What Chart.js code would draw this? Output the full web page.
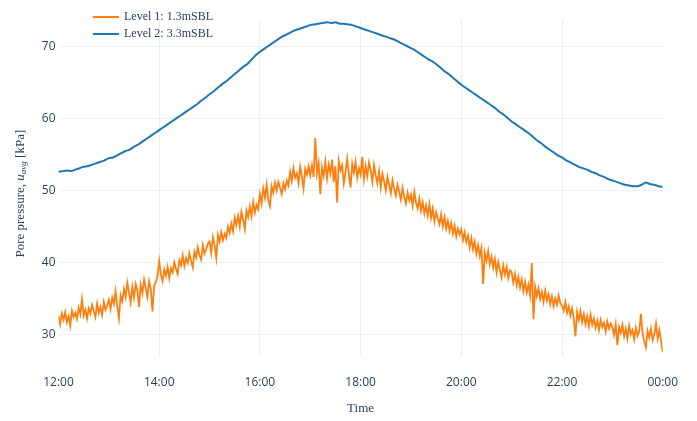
<!DOCTYPE html>
<html>
<head>
<meta charset="utf-8">
<script src="https://cdn.jsdelivr.net/npm/chart.js@4.4.1/dist/chart.umd.min.js"></script>
<style>
  html, body { margin: 0; padding: 0; background: #fff; }
  #wrap { width: 697px; height: 421px; }
</style>
</head>
<body>
<div id="wrap"><canvas id="poreChart"></canvas></div>
<script>
// time axis: hours from 12:00 (12) to midnight (24)
const startHour = 12
const level1StepMin = 2
const level2StepMin = 5
const xTickHours = [12, 14, 16, 18, 20, 22, 24]
const yTickValues = [30, 40, 50, 60, 70]

const level1Label = 'Level 1: 1.3mSBL'
const level2Label = 'Level 2: 3.3mSBL'

// Level 1 (1.3 mSBL), one value every 2 min, one row per hour
const level1Values = [
  32.6, 31.4, 32.9, 32.0, 33.1, 31.7, 32.5, 31.2, 33.3, 32.4, 33.0, 32.1, 33.7, 32.8, 34.9, 32.6, 33.4, 32.2, 33.6, 32.9, 34.1, 33.2, 32.4, 34.3, 33.0, 33.8, 32.7, 34.5, 33.4, 34.0,
  34.8, 33.5, 35.1, 34.2, 36.0, 33.9, 32.2, 35.4, 34.6, 36.3, 35.2, 37.2, 35.8, 34.4, 36.6, 35.1, 37.0, 36.1, 33.8, 36.9, 35.7, 37.6, 36.4, 35.2, 37.4, 36.3, 33.2, 36.8, 37.3, 38.1,
  40.2, 38.3, 37.4, 39.0, 38.1, 39.4, 37.8, 39.2, 38.6, 40.0, 39.1, 38.4, 40.3, 39.6, 41.0, 39.5, 40.6, 39.9, 41.3, 40.2, 39.3, 41.5, 40.7, 42.1, 41.0, 40.4, 42.4, 41.2, 41.8, 42.6,
  42.9, 41.3, 43.5, 42.4, 40.6, 43.8, 42.9, 44.2, 43.1, 44.0, 43.4, 45.0, 44.1, 45.4, 44.3, 46.2, 45.2, 46.5, 45.0, 47.0, 45.9, 44.6, 47.2, 46.3, 47.8, 46.4, 48.4, 46.9, 48.0, 47.4,
  49.5, 48.2, 50.3, 49.0, 50.8, 48.6, 47.8, 50.6, 49.7, 51.1, 50.0, 51.2, 50.4, 49.5, 51.0, 50.2, 51.4, 50.7, 52.6, 51.3, 53.1, 51.8, 52.4, 51.0, 53.3, 52.0, 50.3, 53.0, 52.2, 53.4,
  52.1, 53.5, 51.9, 57.3, 52.4, 53.8, 49.5, 53.2, 52.0, 54.0, 51.7, 53.6, 52.4, 54.3, 51.2, 53.4, 48.3, 54.1, 52.8, 53.5, 51.0, 52.6, 54.4, 52.2, 50.4, 53.7, 52.5, 54.0, 51.8, 53.1,
  52.2, 54.7, 51.6, 53.4, 52.0, 53.9, 52.8, 51.2, 53.5, 52.1, 51.0, 52.7, 50.4, 52.3, 51.3, 50.0, 51.9, 50.8, 49.6, 51.4, 50.2, 49.3, 50.8, 49.8, 48.7, 50.4, 49.1, 48.2, 49.7, 48.6,
  49.4, 47.9, 49.8, 48.3, 47.5, 48.9, 47.2, 48.4, 46.8, 47.9, 46.5, 48.1, 46.2, 47.5, 45.7, 47.0, 46.1, 45.3, 46.7, 45.0, 46.3, 44.7, 45.8, 44.4, 45.5, 44.0, 45.1, 43.6, 44.7, 43.9,
  44.6, 43.1, 44.2, 42.8, 43.7, 42.1, 43.4, 41.8, 42.9, 41.2, 42.4, 40.9, 42.0, 37.0, 41.3, 40.2, 41.6, 39.7, 40.8, 39.3, 40.5, 38.6, 40.1, 39.0, 37.9, 39.6, 38.3, 39.4, 37.8, 38.9,
  38.6, 37.2, 38.4, 36.8, 38.0, 36.5, 37.6, 36.0, 37.3, 35.8, 36.9, 35.4, 39.9, 32.1, 36.6, 35.3, 36.4, 34.9, 35.9, 34.5, 36.1, 34.7, 35.6, 34.2, 35.3, 33.9, 35.0, 34.1, 35.4, 34.3,
  34.0, 33.3, 34.5, 33.0, 33.9, 32.6, 33.6, 32.2, 29.7, 33.1, 32.0, 33.2, 31.7, 32.8, 31.4, 32.5, 31.1, 32.7, 31.3, 32.2, 30.9, 31.9, 30.6, 32.0, 31.0, 31.6, 30.4, 31.8, 30.8, 31.5,
  31.0, 29.9, 31.4, 28.5, 31.0, 30.2, 31.3, 29.7, 30.8, 29.4, 31.2, 30.0, 30.6, 29.3, 30.9, 29.8, 30.4, 32.8, 30.2, 29.0, 28.2, 30.5, 29.6, 30.8, 29.2, 30.0, 31.5, 29.4, 30.6, 29.1,
  27.5
]

// Level 2 (3.3 mSBL), one value every 5 min, one row per hour
const level2Values = [
  52.6, 52.7, 52.8, 52.7, 52.9, 53.1, 53.3, 53.4, 53.6, 53.8, 54.0, 54.2,
  54.5, 54.6, 54.9, 55.2, 55.5, 55.7, 56.1, 56.4, 56.8, 57.2, 57.6, 58.0,
  58.4, 58.8, 59.2, 59.6, 60.0, 60.4, 60.8, 61.2, 61.6, 62.0, 62.5, 62.9,
  63.4, 63.8, 64.3, 64.8, 65.2, 65.7, 66.2, 66.7, 67.2, 67.6, 68.2, 68.8,
  69.3, 69.7, 70.1, 70.5, 70.9, 71.3, 71.6, 71.9, 72.2, 72.4, 72.6, 72.8,
  73.0, 73.1, 73.2, 73.3, 73.4, 73.3, 73.4, 73.2, 73.2, 73.1, 73.0, 72.8,
  72.6, 72.4, 72.2, 72.0, 71.8, 71.6, 71.4, 71.2, 71.0, 70.7, 70.4, 70.1,
  69.8, 69.5, 69.1, 68.7, 68.3, 68.0, 67.6, 67.1, 66.6, 66.2, 65.7, 65.2,
  64.7, 64.3, 63.9, 63.5, 63.1, 62.7, 62.3, 61.9, 61.5, 61.0, 60.6, 60.1,
  59.6, 59.2, 58.8, 58.4, 58.0, 57.5, 57.0, 56.6, 56.1, 55.7, 55.3, 54.9,
  54.6, 54.2, 53.9, 53.6, 53.3, 53.1, 52.9, 52.6, 52.4, 52.1, 51.9, 51.6,
  51.4, 51.2, 51.0, 50.8, 50.7, 50.6, 50.6, 50.8, 51.1, 50.9, 50.8, 50.6,
  50.5
]

function toPoints(values, stepMin) {
  return values.map((v, i) => ({ x: startHour + i * stepMin / 60, y: v }))
}

function hourLabel(h) {
  const hh = Math.round(h) % 24
  return (hh < 10 ? '0' : '') + hh + ':00'
}

const textColor = '#2a3f5f'
const gridColor = '#ebf0f8'
const serif = '"Liberation Serif", "Times New Roman", serif'

// plotly-style legend inside the plot, top left
const legendPlugin = {
  id: 'innerLegend',
  afterDraw(chart) {
    const ctx = chart.ctx
    ctx.save()
    ctx.font = '12px ' + serif
    ctx.textBaseline = 'middle'
    chart.data.datasets.forEach((ds, i) => {
      const y = 17 + i * 17
      ctx.strokeStyle = ds.borderColor
      ctx.lineWidth = 2
      ctx.beginPath()
      ctx.moveTo(93, y)
      ctx.lineTo(119, y)
      ctx.stroke()
      ctx.fillStyle = textColor
      ctx.fillText(ds.label, 124, y)
    })
    ctx.restore()
  }
}

// y title with italic u and subscript avg
const yTitlePlugin = {
  id: 'yTitle',
  afterDraw(chart) {
    const ctx = chart.ctx
    const area = chart.chartArea
    const parts = [
      { t: 'Pore pressure, ', f: '13px ' + serif, dy: 0 },
      { t: 'u', f: 'italic 13px ' + serif, dy: 0 },
      { t: 'avg', f: 'italic 9px ' + serif, dy: 3 },
      { t: ' [kPa]', f: '13px ' + serif, dy: 0 }
    ]
    ctx.save()
    let total = 0
    parts.forEach(p => { ctx.font = p.f; total += ctx.measureText(p.t).width })
    ctx.translate(21, (area.top + area.bottom) / 2 + 6)
    ctx.rotate(-Math.PI / 2)
    ctx.fillStyle = textColor
    ctx.textBaseline = 'middle'
    let x = -total / 2
    parts.forEach(p => {
      ctx.font = p.f
      ctx.fillText(p.t, x, p.dy)
      x += ctx.measureText(p.t).width
    })
    ctx.restore()
  }
}

new Chart('poreChart', {
  type: 'line',
  data: {
    datasets: [{
      label: level1Label,
      data: toPoints(level1Values, level1StepMin),
      borderColor: '#ff7f0e',
      borderWidth: 1.8,
      pointRadius: 0,
      tension: 0
    }, {
      label: level2Label,
      data: toPoints(level2Values, level2StepMin),
      borderColor: '#1f77b4',
      borderWidth: 2,
      pointRadius: 0,
      tension: 0.2
    }]
  },
  options: {
    responsive: true,
    maintainAspectRatio: false,
    animation: false,
    layout: { padding: { left: 0, right: 31, top: 19.4, bottom: 0 } },
    plugins: {
      legend: { display: false },
      tooltip: { enabled: false }
    },
    scales: {
      x: {
        type: 'linear',
        min: 12,
        max: 24,
        afterBuildTicks: scale => { scale.ticks = xTickHours.map(v => ({ value: v })) },
        afterFit: scale => { scale.height = 65.1 },
        ticks: {
          padding: 19,
          color: textColor,
          font: { family: '"Open Sans"', size: 12 },
          maxRotation: 0,
          callback: v => hourLabel(v)
        },
        grid: {
          color: ctx => (ctx.tick && (ctx.tick.value === 12 || ctx.tick.value === 24)) ? 'rgba(0,0,0,0)' : gridColor,
          drawTicks: false
        },
        border: { display: false },
        title: {
          display: true,
          text: 'Time',
          color: textColor,
          font: { family: serif, size: 13 },
          padding: { top: 0, bottom: 5 }
        }
      },
      y: {
        min: 27,
        max: 73.8,
        afterBuildTicks: scale => { scale.ticks = yTickValues.map(v => ({ value: v })) },
        afterFit: scale => { scale.width = 58.5 },
        ticks: {
          padding: 3,
          color: textColor,
          font: { family: '"Open Sans"', size: 12 }
        },
        grid: { color: gridColor, drawTicks: false },
        border: { display: false }
      }
    }
  },
  plugins: [legendPlugin, yTitlePlugin]
})
</script>
</body>
</html>
